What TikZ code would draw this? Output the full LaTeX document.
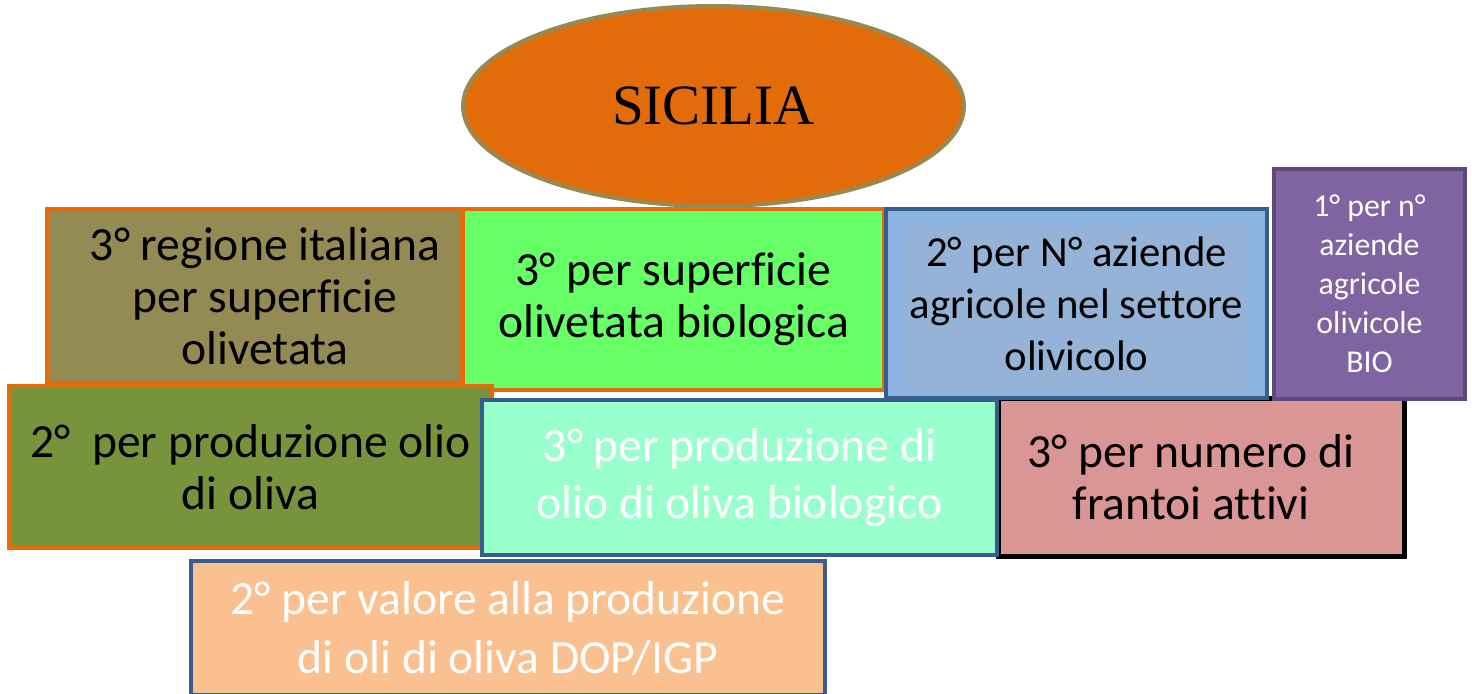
\documentclass[tikz,border=0pt]{standalone}
\usepackage{fontspec}
\setmainfont{Carlito}[Ligatures=NoCommon]
\newfontfamily\titlefont{Liberation Serif}
\usepackage{tikz}
\usetikzlibrary{shapes.geometric}
\definecolor{sorange}{HTML}{E36C0A}
\definecolor{solive}{HTML}{948A54}
\definecolor{sgreen}{HTML}{66FF66}
\definecolor{sblue}{HTML}{385D8A}
\definecolor{slightblue}{HTML}{8EB4E3}
\definecolor{sinnerblue}{HTML}{95B3D7}
\definecolor{spurple}{HTML}{8064A2}
\definecolor{sdarkpurple}{HTML}{5F497A}
\definecolor{soilgreen}{HTML}{77933C}
\definecolor{saqua}{HTML}{99FFCC}
\definecolor{spink}{HTML}{D99694}
\definecolor{speach}{HTML}{FAC090}
\tikzset{
% Box styles: one for each border colour
box/.style={rectangle,draw,line width=2pt,align=center,inner sep=0pt},
orange box/.style={box,draw=sorange},
blue box/.style={box,draw=sblue},
black box/.style={box,draw=black,line width=2.5pt}
}

\begin{document}
\begin{tikzpicture}[x=0.5pt,y=-0.5pt,font=\fontsize{23.8}{26}\selectfont]
\useasboundingbox (0,0) rectangle (1472,693);
% Boxes at the back
\node(6)[black box,fill=spink,minimum width=203pt,minimum height=79pt] at (1201,477) {3° per numero di\hspace*{10pt}\\frantoi attivi\hspace*{10pt}};
\node(1)[orange box,fill=solive,minimum width=207pt,minimum height=87pt] at (254,296) {\hspace*{11pt}3° regione italiana\\\hspace*{11pt}per superficie\\\hspace*{11pt}olivetata};
\node(2)[orange box,fill=sgreen,minimum width=210.5pt,minimum height=90.5pt] at (673.5,299.5) {3° per superficie\\olivetata biologica};
\node(5)[orange box,fill=soilgreen,minimum width=241.5pt,minimum height=81pt] at (250.5,467) {2°\ \ per produzione olio\\di oliva};
\node(7)[blue box,fill=saqua,text=white,minimum width=257.5pt,minimum height=77.5pt,font=\fontsize{23.8}{28.5}\selectfont] at (739.5,477.5) {3° per produzione di\\olio di oliva biologico};
\node(3)[blue box,fill=slightblue,minimum width=190.5pt,minimum height=94.5pt,font=\fontsize{21.4}{26}\selectfont,
path picture={\fill[sinnerblue] ([xshift=9.5pt,yshift=-8pt]path picture bounding box.north west) rectangle ([xshift=-8.5pt,yshift=4pt]path picture bounding box.south east);}] at (1076.5,303.5) {2° per N° aziende\\agricole nel settore\\olivicolo};
\node(4)[box,draw=sdarkpurple,fill=spurple,text=white,minimum width=95.5pt,minimum height=115pt,font=\fontsize{15.9}{19.5}\selectfont] at (1369.5,284) {1° per n°\\aziende\\agricole\\olivicole\\BIO};
\node(8)[blue box,fill=speach,text=white,minimum width=317pt,minimum height=67pt,font=\fontsize{23.8}{29.5}\selectfont] at (508,628) {2° per valore alla produzione\\di oli di oliva DOP/IGP};
% The title on top
\node(0)[ellipse,draw=solive,line width=2pt,fill=sorange,minimum width=250.5pt,minimum height=100pt,font=\titlefont\fontsize{28.5}{30}\selectfont] at (713.5,106) {SICILIA};
\end{tikzpicture}
\end{document}
